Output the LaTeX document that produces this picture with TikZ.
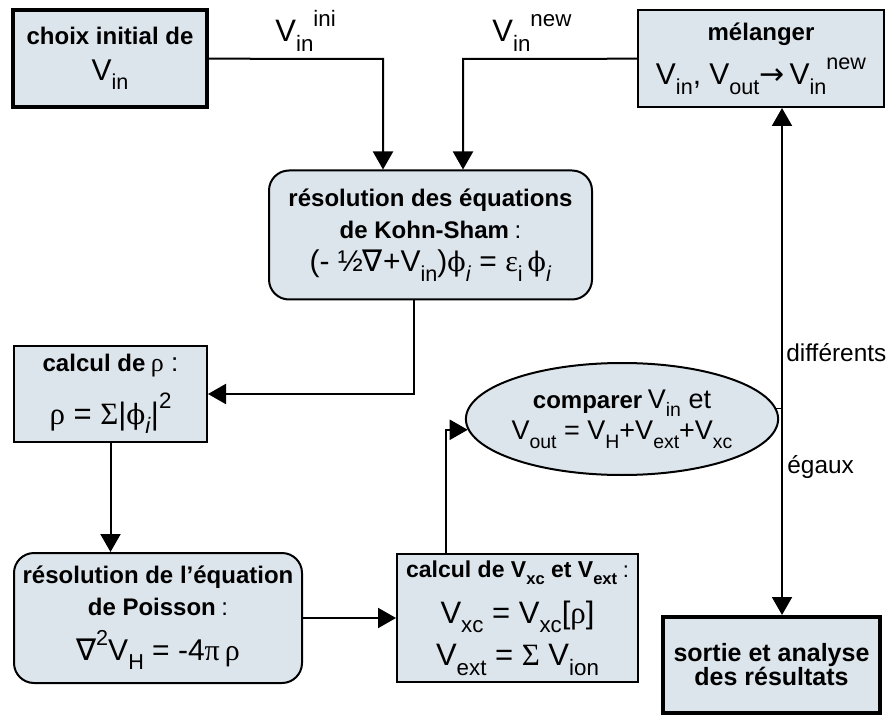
\documentclass[tikz,border=0pt]{standalone}
\usepackage{fontspec}
\setmainfont{Liberation Sans}
\newfontfamily\grk{Liberation Serif}
\newfontfamily\phf{DejaVu Serif}
\newfontfamily\djv{DejaVu Sans}
\usetikzlibrary{arrows.meta,shapes.geometric}
\definecolor{flow_blue}{RGB}{221, 229, 236}
\tikzstyle{bx}=[rectangle,fill=flow_blue,draw=black,line width=1pt,
  align=center,inner sep=2pt]
\tikzstyle{tbx}=[bx,line width=2pt]
\tikzstyle{rbx}=[bx,rounded corners=10pt]
\tikzstyle{ov}=[ellipse,fill=flow_blue,draw=black,line width=1pt,
  align=center,inner sep=0pt]
\tikzstyle{lbl}=[inner sep=0pt,anchor=base west]
\tikzstyle{arr}=[line width=1pt,-{Triangle[length=9pt,width=10pt]}]
\newcommand{\sbs}[1]{\raisebox{-0.6ex}{\scalebox{0.72}{#1}}}
\newcommand{\sps}[1]{\raisebox{0.95ex}{\scalebox{0.72}{#1}}}
\newcommand{\hd}{\fontsize{12}{14}\selectfont\bfseries}
\newcommand{\eqsz}[1]{\fontsize{#1}{#1}\selectfont}
\newcommand{\ph}{{\phf\scalebox{0.9}{ϕ}}}

\begin{document}
\begin{tikzpicture}[x=0.5pt, y=-0.5pt]
        \useasboundingbox (0, 0) rectangle (892, 715);
        \node[style=tbx, minimum width=97pt, minimum height=48.5pt] (1) at (110, 58.5)
          {{\hd choix initial de}\\[6pt]{\eqsz{15}V\sbs{in}}};
        \node[style=bx, minimum width=123pt, minimum height=48.5pt] (2) at (761, 58.5)
          {{\hd mélanger}\\[5.5pt]{\eqsz{15}V\sbs{in}, V\sbs{out}{\djv →}\,V\sbs{in}\sps{new}}};
        \node[style=rbx, minimum width=161.5pt, minimum height=64.5pt] (3) at (430.5, 235)
          {{\hd résolution des équations}\\[4pt]{\hd de Kohn-Sham} {\eqsz{12}:}\\[4.5pt]
           {\eqsz{15}(- ½{\djv ∇}+V\sbs{in})\ph\sbs{\textit{i}} = {\grk ε}\sbs{i}\,\ph\sbs{\textit{i}}}};
        \node[style=bx, minimum width=96.5pt, minimum height=48pt] (4) at (110.5, 394)
          {{\hd calcul de} {\eqsz{13}{\grk ρ} :}\\[7pt]{\eqsz{15.5}{\grk ρ} = {\grk Σ}|\ph\sbs{\textit{i}}|\sps{2}}};
        \node[style=rbx, minimum width=144pt, minimum height=65pt] (5) at (158, 618)
          {{\hd résolution de l’équation}\\[4pt]{\hd de Poisson} {\eqsz{12}:}\\[6pt]
           {\eqsz{15}{\djv ∇}\sps{2}V\sbs{H} = -4{\grk π}\,{\grk ρ}}};
        \node[style=bx, minimum width=120.5pt, minimum height=64pt] (6) at (517.5, 618)
          {{\fontsize{11.5}{13}\selectfont\bfseries calcul de V\sbs{xc} et V\sbs{ext}} {\eqsz{11}:}\\[7pt]
           {\eqsz{15.5}V\sbs{xc} = V\sbs{xc}[{\grk ρ}]}\\[4.5pt]{\eqsz{15.5}V\sbs{ext} = {\grk Σ} V\sbs{ion}}};
        \node[style=ov, minimum width=129pt, minimum height=56pt] (7) at (622, 419)
          {{\hd comparer} {\eqsz{13.5}V\sbs{in} et}\\[1pt]
           {\eqsz{13.5}V\sbs{out} = V\sbs{H}+V\sbs{ext}+V\sbs{xc}}};
        \node[style=tbx, minimum width=108.5pt, minimum height=48pt] (8) at (771.5, 665)
          {{\fontsize{12.5}{15}\selectfont\bfseries sortie et analyse}\\
           {\fontsize{12.5}{15}\selectfont\bfseries des résultats}};
        \node[style=lbl] (9) at (275, 42) {\eqsz{15.5}V\sbs{in}\sps{ini}};
        \node[style=lbl] (10) at (492, 42) {\eqsz{15.5}V\sbs{in}\sps{new}};
        \node[style=lbl] (11) at (786, 362) {\fontsize{12.2}{14}\selectfont différents};
        \node[style=lbl] (12) at (787, 473) {\fontsize{12.2}{14}\selectfont égaux};
        \coordinate (k1) at (383, 59);
        \coordinate (k2) at (463, 59);
        \coordinate (k3) at (414, 394);
        \coordinate (k4) at (446, 427);
        \coordinate (k5) at (782, 411);
        \draw[arr] (1) -- (k1) -- (k1 |- 3.north);
        \draw[arr] (2) -- (k2) -- (k2 |- 3.north);
        \draw[arr] (3.south -| k3) |- (4);
        \draw[arr] (4.south) -- (4.south |- 5.north);
        \draw[arr] (5) -- (6);
        \draw[arr] (6.north -| k4) |- (7.184);
        \draw (7.4) -- (7.4 -| k5);
        \draw[arr] (k5) -- (k5 |- 2.south);
        \draw[arr] (k5) -- (k5 |- 8.north);
    \end{tikzpicture}
\end{document}
